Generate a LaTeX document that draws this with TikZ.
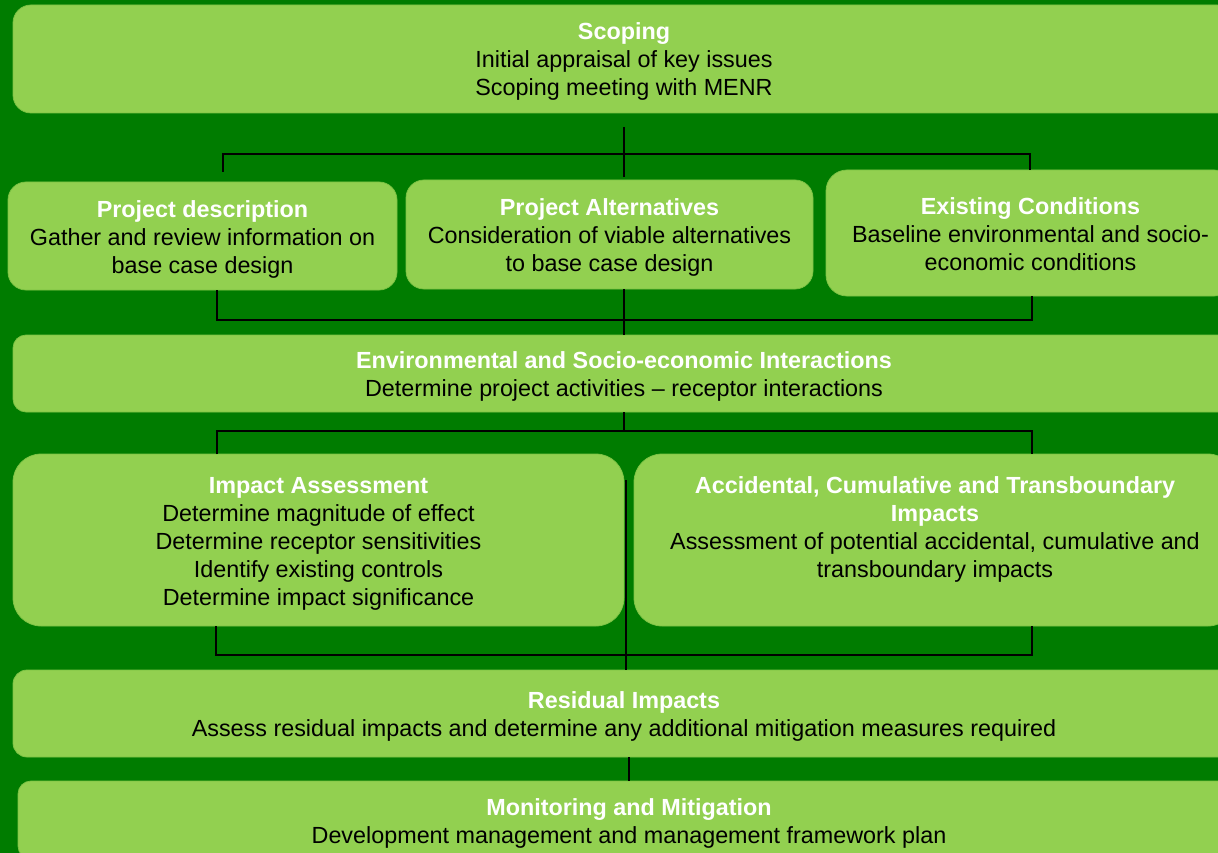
\documentclass[tikz,border=0pt]{standalone}
\usepackage{fontspec}
\setmainfont{Liberation Sans}

\definecolor{forest}{RGB}{0,124,0}
\definecolor{leaf}{RGB}{146,208,80}

\tikzset{
  box/.style={fill=leaf, draw=leaf!85!forest, line width=.75pt, align=center,
    inner sep=0pt, font=\fontsize{23.35}{28}\selectfont,
    execute at end node={\rule[-5pt]{0pt}{0pt}}},
  link/.style={black, line width=1.4pt},
}
\newcommand{\hd}[1]{\rule{0pt}{23pt}\textcolor{white}{\bfseries #1}}

\begin{document}
\begin{tikzpicture}[x=1pt,y=-1pt]
  \useasboundingbox (0,0) rectangle (1218,853);
  \clip (0,0) rectangle (1218,853);
  \fill[forest] (0,0) rectangle (1218,853);

  %% boxes
  \node[box, minimum width=1222pt, minimum height=108pt, rounded corners=18pt]
    (scoping) at (624,59)
    {\hd{Scoping}\\Initial appraisal of key issues\\Scoping meeting with MENR};

  \node[box, minimum width=389pt, minimum height=108pt, rounded corners=18pt]
    (projdesc) at (202.5,236)
    {\hd{Project description}\\Gather and review information on\\base case design};
  \node[box, minimum width=407pt, minimum height=109pt, rounded corners=18pt]
    (projalt) at (609.5,234.5)
    {\hd{Project Alternatives}\\Consideration of viable alternatives\\to base case design};
  \node[box, minimum width=409pt, minimum height=126pt, rounded corners=21pt]
    (existing) at (1030.5,233)
    {\hd{Existing Conditions}\\Baseline environmental and socio-\\economic conditions};

  \node[box, minimum width=1222pt, minimum height=77pt, rounded corners=13pt]
    (interact) at (624,373.5)
    {\hd{Environmental and Socio-economic Interactions}\\Determine project activities -- receptor interactions};

  \node[box, minimum width=611pt, minimum height=172pt, rounded corners=28pt]
    (impact) at (318.5,540)
    {\hd{Impact Assessment}\\Determine magnitude of effect\\Determine receptor sensitivities\\
     Identify existing controls\\Determine impact significance};
  \node[box, minimum width=602pt, minimum height=172pt, rounded corners=28pt]
    (accident) at (935,540)
    {\hd{Accidental, Cumulative and Transboundary}\\\hd{Impacts}\\
     Assessment of potential accidental, cumulative and\\transboundary impacts\\\mbox{}};

  \node[box, minimum width=1222pt, minimum height=87pt, rounded corners=14pt]
    (residual) at (624,713.5)
    {\hd{Residual Impacts}\\Assess residual impacts and determine any additional mitigation measures required};

  \node[box, minimum width=1222pt, minimum height=78pt, rounded corners=13pt]
    (monitor) at (629,820)
    {\hd{Monitoring and Mitigation}\\Development management and management framework plan};

  %% first bracket
  \coordinate (a0) at (624,127);
  \coordinate (a1) at (624,177);
  \coordinate (al) at (223,172);
  \coordinate (ar) at (1030,170);
  \draw[link] (a0) -- (a1);
  \draw[link] (al) -- (223,154) -- (1030,154) -- (ar);

  %% second bracket
  \coordinate (b0) at (624,289);
  \coordinate (b1) at (624,335);
  \coordinate (bl) at (217,290);
  \coordinate (br) at (1032,296);
  \draw[link] (b0) -- (b1);
  \draw[link] (bl) -- (217,320) -- (1032,320) -- (br);

  %% third bracket
  \coordinate (c0) at (624,412);
  \coordinate (c1) at (624,431);
  \coordinate (cl) at (217,454);
  \coordinate (cr) at (1032,454);
  \draw[link] (c0) -- (c1);
  \draw[link] (cl) -- (217,431) -- (1032,431) -- (cr);

  %% fourth bracket
  \coordinate (d0) at (626,480);
  \coordinate (d1) at (626,670);
  \coordinate (dl) at (216,626);
  \coordinate (dr) at (1032,626);
  \draw[link] (d0) -- (d1);
  \draw[link] (dl) -- (216,655) -- (1032,655) -- (dr);

  %% last link
  \coordinate (e0) at (629,757);
  \coordinate (e1) at (629,781);
  \draw[link] (e0) -- (e1);
\end{tikzpicture}
\end{document}
